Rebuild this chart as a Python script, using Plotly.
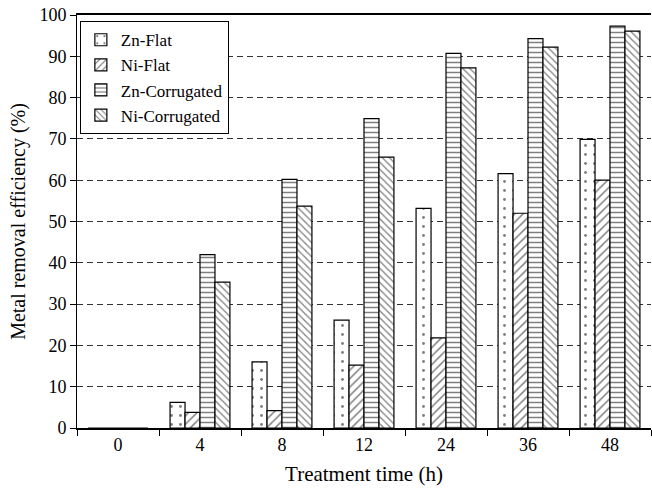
import plotly.graph_objects as go

categories = ["0", "4", "8", "12", "24", "36", "48"]
zn_flat = [0, 6.2, 16.0, 26.1, 53.2, 61.6, 69.9]
ni_flat = [0, 3.8, 4.2, 15.2, 21.8, 52.0, 60.0]
zn_corr = [0, 42.0, 60.2, 74.9, 90.7, 94.3, 97.3]
ni_corr = [0, 35.3, 53.7, 65.6, 87.2, 92.2, 96.1]

series = [
    ("Zn-Flat", zn_flat, ".", 9, 0.08),
    ("Ni-Flat", ni_flat, "/", 6, 0.25),
    ("Zn-Corrugated", zn_corr, "-", 5, 0.3),
    ("Ni-Corrugated", ni_corr, "\\", 5, 0.25),
]

fig = go.Figure()
for name, vals, shape, sz, sol in series:
    fig.add_trace(go.Bar(
        x=categories, y=vals, name=name,
        marker=dict(color="white",
                    line=dict(color="black", width=1.2),
                    pattern=dict(shape=shape, fgcolor="black", bgcolor="white",
                                 size=sz, solidity=sol)),
    ))

font = "Liberation Serif"
fig.update_layout(
    width=652, height=494,
    margin=dict(l=77, r=1, t=15, b=66),
    paper_bgcolor="white", plot_bgcolor="white",
    barmode="group", bargap=0.27, bargroupgap=0,
    font=dict(family=font, size=18, color="black"),
    legend=dict(x=0.005, y=0.985, xanchor="left", yanchor="top",
                bordercolor="black", borderwidth=1, bgcolor="white",
                font=dict(family=font, size=17), itemwidth=30, tracegroupgap=0),
    xaxis=dict(type="category", showline=True, linecolor="black", linewidth=1.5,
               mirror=True, ticks="outside", tickson="boundaries", ticklen=6,
               tickcolor="black", showgrid=False, layer="above traces",
               tickfont=dict(family=font, size=18),
               title=dict(text="Treatment time (h)", font=dict(family=font, size=21), standoff=12)),
    yaxis=dict(range=[0, 100], dtick=10, showline=True, linecolor="black", linewidth=1,
               ticks="outside", ticklen=6, tickcolor="black",
               showgrid=True, gridcolor="#333", griddash="6px,4px", gridwidth=1,
               zeroline=False, tickfont=dict(family=font, size=18),
               title=dict(text="Metal removal efficiency (%)", font=dict(family=font, size=20), standoff=8)),
)
fig.write_html("out.html")
